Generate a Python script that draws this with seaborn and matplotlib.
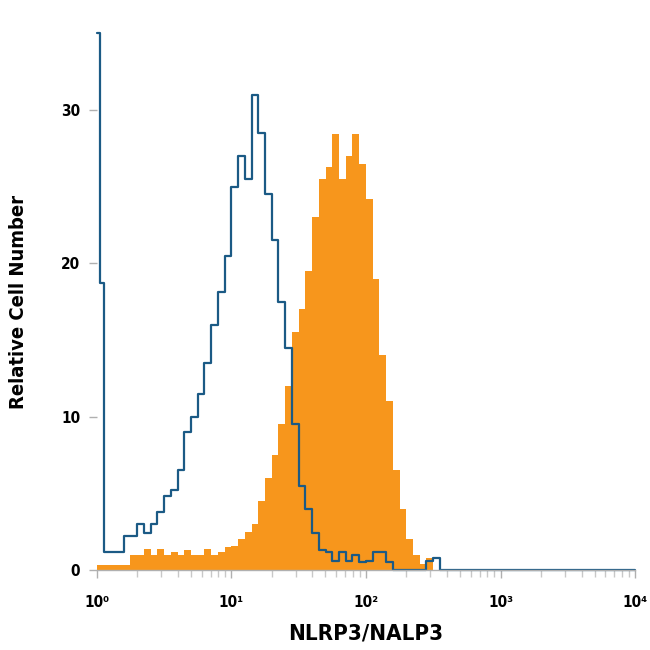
import numpy as np
import pandas as pd
import matplotlib
matplotlib.use("Agg")
import matplotlib.pyplot as plt
from matplotlib import font_manager
from matplotlib.ticker import LogLocator, FixedLocator, NullFormatter
import seaborn as sns

# bin edges in decades: a narrow first bin, then 0.05-decade bins up to 10^4
log_edges = np.r_[0.0, 0.025, np.arange(0.05, 4.0001, 0.05)]

# isotype control (blue outline), counts per bin from the first bin on
isotype_counts = [35.0, 18.7,
                  1.2, 1.2, 1.2, 2.2, 2.2, 3.0, 2.4, 3.0, 3.8, 4.8,
                  5.2, 6.5, 9.0, 10.0, 11.5, 13.5, 16.0, 18.1, 20.5, 25.0,
                  27.0, 25.5, 31.0, 28.5, 24.5, 21.5, 17.5, 14.5, 9.5, 5.5,
                  4.0, 2.4, 1.3, 1.2, 0.6, 1.2, 0.6, 1.0, 0.5, 0.6,
                  1.2, 1.2, 0.5, 0.0, 0.0, 0.0, 0.0, 0.0, 0.6, 0.8]

# NLRP3/NALP3 antibody (orange filled), counts per bin from the first bin on
antibody_counts = [0.3, 0.3,
                   0.3, 0.3, 0.3, 0.3, 1.0, 1.0, 1.4, 1.0, 1.4, 1.0,
                   1.2, 1.0, 1.3, 1.0, 1.0, 1.4, 1.0, 1.2, 1.5, 1.6,
                   2.0, 2.5, 3.0, 4.5, 6.0, 7.5, 9.5, 12.0, 15.5, 17.0,
                   19.5, 23.0, 25.5, 26.3, 28.4, 25.5, 27.0, 28.4, 26.5, 24.2,
                   19.0, 14.0, 11.0, 6.5, 4.0, 2.0, 1.0, 0.4, 0.8]

x_ticks = [1, 10, 100, 1000, 10000]
x_tick_labels = ["10⁰", "10¹", "10²", "10³", "10⁴"]
y_ticks = [0, 10, 20, 30]

edges = 10 ** log_edges
centers = np.sqrt(edges[:-1] * edges[1:])


def to_frame(counts):
    w = np.zeros(len(centers))
    w[:len(counts)] = counts
    return pd.DataFrame({"x": centers, "w": w})


iso = to_frame(isotype_counts)
ab = to_frame(antibody_counts)

sns.set_style("white")
names = {f.name for f in font_manager.fontManager.ttflist}
narrow = [n for n in ["Liberation Sans Narrow", "DejaVu Sans"] if n in names]
plt.rcParams["font.family"] = narrow + ["DejaVu Sans"]
plt.rcParams["font.stretch"] = "condensed"
plt.rcParams["text.color"] = "black"
plt.rcParams["xtick.labelcolor"] = "black"
plt.rcParams["ytick.labelcolor"] = "black"
plt.rcParams["axes.labelcolor"] = "black"

fig = plt.figure(figsize=(6.5, 6.5), dpi=100)
ax = fig.add_axes([0.149, 0.123, 0.828, 0.826])

sns.histplot(ab, x="x", weights="w", bins=list(edges), element="step",
             fill=True, color="#f7961c", alpha=1.0, linewidth=0, ax=ax)
sns.histplot(iso, x="x", weights="w", bins=list(edges), element="step",
             fill=False, color="#1b5a85", linewidth=1.6, clip_on=False, ax=ax)

ax.set_xscale("log")
ax.set_xlim(1, 10000)
ax.set_ylim(0, 35)

ax.xaxis.set_major_locator(FixedLocator(x_ticks))
ax.set_xticklabels(x_tick_labels, fontsize=11, fontweight="bold")
ax.xaxis.set_minor_locator(LogLocator(base=10, subs=np.arange(2, 10)))
ax.xaxis.set_minor_formatter(NullFormatter())
ax.set_yticks(y_ticks)
ax.set_yticklabels([str(v) for v in y_ticks], fontsize=11, fontweight="bold")

ax.tick_params(axis="both", which="major", direction="out", length=6,
               width=1, color="#b0b0b0", pad=6)
ax.tick_params(axis="x", which="major", pad=12)
ax.tick_params(axis="x", which="minor", direction="out", length=5,
               width=1, color="#c8c8c8")
ax.tick_params(axis="x", which="both", bottom=True)
ax.tick_params(axis="y", which="major", left=True)

for side in ["top", "right", "left"]:
    ax.spines[side].set_visible(False)
ax.spines["bottom"].set_color("#b0b0b0")
ax.spines["bottom"].set_linewidth(1)

ax.set_xlabel("NLRP3/NALP3", fontsize=16, fontweight="bold", labelpad=10)
ax.set_ylabel("Relative Cell Number", fontsize=14.5, fontweight="bold", labelpad=24)

fig.savefig("out.png", dpi=100)
